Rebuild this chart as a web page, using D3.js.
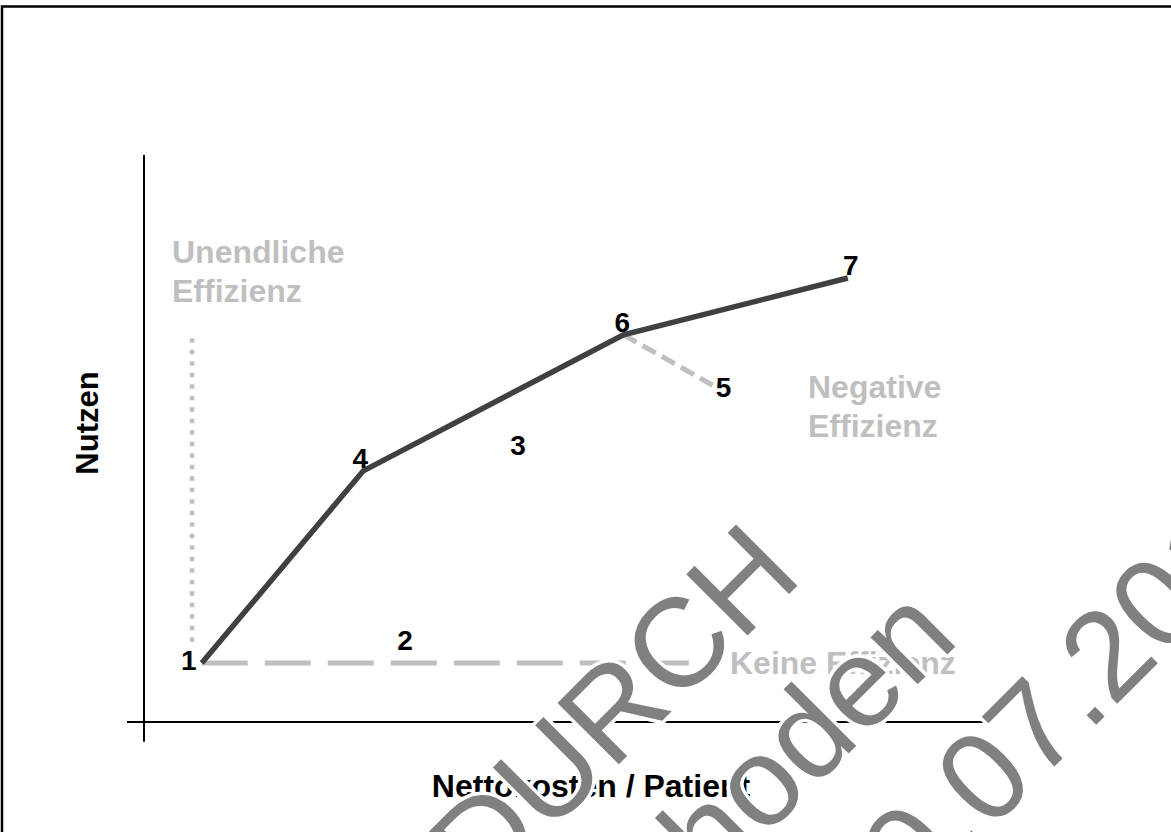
<!DOCTYPE html>
<html>
<head>
<meta charset="utf-8">
<script src="https://cdn.jsdelivr.net/npm/d3@7"></script>
<style>
  html, body { margin: 0; padding: 0; background: #fff; }
  svg { display: block; }
</style>
</head>
<body>
<svg id="chart" width="1171" height="832"></svg>
<script>
// ---------- data ----------
const alternatives = ["1", "2", "3", "4", "5", "6", "7"];
const nettokosten  = [6.8, 30.7, 44.0, 25.8, 66.9, 56.4, 82.8];
const nutzen       = [10.4, 14.5, 48.8, 44.3, 59.4, 68.3, 78.3];
const frontier = ["1", "4", "6", "7"];          // Effizienzgrenze
const negativeBranch = ["6", "5"];             // negative Effizienz
const keineEffizienzEnd = 64.1;                // Nettokosten where horizontal line ends
const unendlicheX = 5.65;                      // vertical line (unendliche Effizienz)
const unendlicheRange = [13.5, 67.7];
const xTitle = "Nettokosten / Patient";
const yTitle = "Nutzen";
const regionLabels = [["Unendliche", "Effizienz"], ["Negative", "Effizienz"], ["Keine Effizienz"]];
const watermarkLines = [["ERSETZT ", "DURCH"], ["Allgemeine ", "Methoden"], ["Version 5.0 vom 10.", "07.2017"]];

// ---------- layout ----------
const svg = d3.select("#chart");
const W = 1171, H = 832;
const x = d3.scaleLinear().domain([0, 100]).range([144, 994]);
const y = d3.scaleLinear().domain([0, 100]).range([722, 155]);
const pt = Object.fromEntries(alternatives.map((a, i) => [a, [nettokosten[i], nutzen[i]]]));
const font = "'Liberation Sans', Arial, Helvetica, sans-serif";
const gray = "#bfbfbf";

svg.append("rect").attr("width", W).attr("height", H).attr("fill", "#fff");
// frame
svg.append("path").attr("d", `M2,${H}V6.5H${W}`).attr("fill", "none")
  .attr("stroke", "#000").attr("stroke-width", 2.5);

// axes (no ticks)
svg.append("line").attr("x1", x(-2)).attr("x2", x(100)).attr("y1", y(0)).attr("y2", y(0))
  .attr("stroke", "#000").attr("stroke-width", 2);
svg.append("line").attr("x1", x(0)).attr("x2", x(0)).attr("y1", y(100)).attr("y2", y(-3.5))
  .attr("stroke", "#000").attr("stroke-width", 2);

const line = d3.line().x(d => x(d[0])).y(d => y(d[1]));

// unendliche Effizienz: dotted vertical
svg.append("path")
  .attr("d", line([[unendlicheX, unendlicheRange[1]], [unendlicheX, unendlicheRange[0]]]))
  .attr("stroke", gray).attr("stroke-width", 4.5).attr("stroke-dasharray", "4.5 7").attr("fill", "none");

// keine Effizienz: dashed horizontal
svg.append("path")
  .attr("d", line([pt["1"], [keineEffizienzEnd, pt["1"][1]]]))
  .attr("stroke", gray).attr("stroke-width", 5).attr("stroke-dasharray", "46 17").attr("fill", "none");

// negative Effizienz: dashed 6 -> 5
svg.append("path")
  .attr("d", line(negativeBranch.map(k => pt[k])))
  .attr("stroke", gray).attr("stroke-width", 5).attr("stroke-dasharray", "15 7").attr("fill", "none");

// efficiency frontier
svg.append("path")
  .attr("d", line(frontier.map(k => pt[k])))
  .attr("stroke", "#404040").attr("stroke-width", 5.5).attr("stroke-linejoin", "miter").attr("fill", "none");

// point labels
const labelOffset = { "1": [-13, 7], "2": [0, 10], "3": [0, 10], "4": [-3, -3], "5": [11, 12], "6": [-1, -3], "7": [3, -3] };
svg.append("g").selectAll("text").data(alternatives).join("text")
  .attr("x", d => x(pt[d][0]) + labelOffset[d][0])
  .attr("y", d => y(pt[d][1]) + labelOffset[d][1])
  .attr("text-anchor", "middle")
  .attr("font-family", font).attr("font-weight", "bold").attr("font-size", 28)
  .attr("fill", "#000").text(d => d);

// region labels
function multi(lines, px, py, lh) {
  const t = svg.append("text").attr("font-family", font).attr("font-weight", "bold")
    .attr("font-size", 32).attr("fill", gray);
  lines.forEach((s, i) => t.append("tspan").attr("x", px).attr("y", py + i * lh).text(s));
}
multi(regionLabels[0], 172, 263, 39);
multi(regionLabels[1], 808, 398, 39);
multi(regionLabels[2], 730, 674, 39);

// axis titles
svg.append("text").attr("x", 591).attr("y", 797).attr("text-anchor", "middle")
  .attr("font-family", font).attr("font-weight", "bold").attr("font-size", 32).attr("fill", "#000")
  .text(xTitle);
svg.append("text").attr("transform", "translate(98,423) rotate(-90)").attr("text-anchor", "middle")
  .attr("font-family", font).attr("font-weight", "bold").attr("font-size", 31).attr("fill", "#000")
  .text(yTitle);

// watermark (rotated, gray with white halo)
const wmLayout = [[1383, -295], [1602, -334], [1821, 111]]; // [x+y of baseline, along-line start]
const wm = svg.append("g");
watermarkLines.forEach((parts, i) => {
  const [c, q] = wmLayout[i];
  const px = (c + q * Math.SQRT2) / 2, py = (c - q * Math.SQRT2) / 2;
  parts.forEach((s, j) => {
    wm.append("text")
      .attr("transform", `translate(${px},${py}) rotate(-45)`)
      .attr("text-anchor", j === 0 ? "end" : "start")
      .attr("font-family", font).attr("font-size", 126)
      .attr("fill", "#808080").attr("stroke", "#fff").attr("stroke-width", 7)
      .attr("stroke-linejoin", "round").attr("paint-order", "stroke")
      .attr("xml:space", "preserve").style("white-space", "pre")
      .text(s);
  });
});
</script>
</body>
</html>
